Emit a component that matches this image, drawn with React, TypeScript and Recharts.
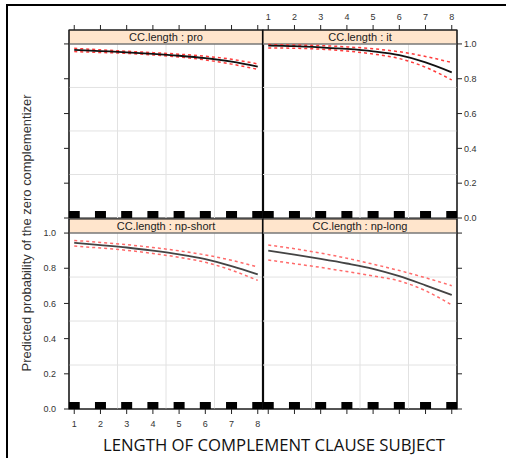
import { ComposedChart, Line, ReferenceArea, ReferenceLine, XAxis, YAxis } from 'recharts';

// length of the complement clause subject (x) and probability ticks
const LENGTHS = [1, 2, 3, 4, 5, 6, 7, 8];
const Y_TICKS = [0, 0.2, 0.4, 0.6, 0.8, 1.0];

// fitted probability with lower / upper confidence bands, per CC.length level
const PRO_FIT = [0.966, 0.959, 0.952, 0.943, 0.932, 0.918, 0.898, 0.870];
const PRO_LO = [0.956, 0.951, 0.946, 0.937, 0.925, 0.908, 0.884, 0.854];
const PRO_HI = [0.975, 0.966, 0.958, 0.950, 0.941, 0.929, 0.912, 0.885];

const IT_FIT = [0.990, 0.987, 0.980, 0.971, 0.957, 0.935, 0.894, 0.837];
const IT_LO = [0.977, 0.975, 0.970, 0.959, 0.942, 0.916, 0.866, 0.793];
const IT_HI = [0.996, 0.994, 0.990, 0.983, 0.972, 0.955, 0.928, 0.893];

const SHORT_FIT = [0.945, 0.932, 0.918, 0.900, 0.879, 0.852, 0.812, 0.765];
const SHORT_LO = [0.926, 0.915, 0.902, 0.884, 0.862, 0.834, 0.789, 0.731];
const SHORT_HI = [0.958, 0.947, 0.934, 0.918, 0.899, 0.876, 0.845, 0.807];

const LONG_FIT = [0.900, 0.877, 0.853, 0.827, 0.797, 0.755, 0.703, 0.648];
const LONG_LO = [0.847, 0.826, 0.805, 0.781, 0.756, 0.728, 0.672, 0.591];
const LONG_HI = [0.932, 0.911, 0.886, 0.857, 0.823, 0.787, 0.746, 0.701];

const W = 506;
const H = 458;
const X_DOMAIN: [number, number] = [0.8, 8.2];
const Y_TOP = 1.08; // strip sits between 1.0 and this
const FONT = '"Liberation Sans", Arial, sans-serif';
const AX = 30;

type Side = 'left' | 'right';
type End = 'top' | 'bottom';

interface PanelProps {
  name: string;
  fit: number[];
  lo: number[];
  hi: number[];
  box: [number, number, number, number];
  ySide: Side;
  xSide: End;
  yLabels: boolean;
  xLabels: boolean;
  fitColor: string;
  bandColor: string;
}

const Rug = (props: any) => {
  const { cx, cy, index } = props;
  if (cx == null || cy == null) return null;
  return <rect key={`rug-${index}`} x={cx - 5.5} y={cy - 7} width={11} height={7} fill="#000" />;
};

function Panel({ name, fit, lo, hi, box, ySide, xSide, yLabels, xLabels, fitColor, bandColor }: PanelProps) {
  const [l, t, r, b] = box;
  const rows = LENGTHS.map((x, i) => ({ x, fit: fit[i], lo: lo[i], hi: hi[i], rug: 0 }));
  const margin = {
    left: l - (ySide === 'left' ? AX : 0),
    right: W - r - (ySide === 'right' ? AX : 0),
    top: t - (xSide === 'top' ? AX : 0),
    bottom: H - b - (xSide === 'bottom' ? AX : 0),
  };
  const span = X_DOMAIN[1] - X_DOMAIN[0];
  const vGrid = [0.25, 0.5, 0.75].map((f) => X_DOMAIN[0] + span * f);
  const tickStyle = { fill: '#333', fontSize: 9, fontFamily: FONT };

  return (
    <div style={{ position: 'absolute', left: 0, top: 0 }}>
      <ComposedChart width={W} height={H} data={rows} margin={margin}>
        <XAxis
          dataKey="x"
          type="number"
          domain={X_DOMAIN}
          ticks={LENGTHS}
          interval={0}
          orientation={xSide}
          height={AX}
          tickSize={5}
          tickMargin={xSide === 'top' ? 5 : 7}
          stroke="#222"
          tick={tickStyle}
          tickFormatter={xLabels ? (v) => String(v) : () => ''}
          allowDataOverflow
        />
        <YAxis
          type="number"
          domain={[0, Y_TOP]}
          ticks={Y_TICKS}
          interval={0}
          orientation={ySide}
          width={AX}
          tickSize={5}
          tickMargin={ySide === 'left' ? 8 : 2}
          stroke="#222"
          tick={tickStyle}
          tickFormatter={yLabels ? (v) => Number(v).toFixed(1) : () => ''}
          allowDataOverflow
        />
        {[0.25, 0.5, 0.75].map((y) => (
          <ReferenceLine key={`h${y}`} y={y} stroke="#e2e2e2" />
        ))}
        {vGrid.map((x) => (
          <ReferenceLine key={`v${x}`} segment={[{ x, y: 0 }, { x, y: 1 }]} stroke="#e2e2e2" />
        ))}
        <ReferenceArea
          x1={X_DOMAIN[0]}
          x2={X_DOMAIN[1]}
          y1={1}
          y2={Y_TOP}
          fill="#ffe5cc"
          fillOpacity={1}
          stroke="none"
          label={{ value: `CC.length : ${name}`, position: 'center', fill: '#222', fontSize: 11, fontFamily: FONT }}
        />
        <ReferenceLine y={1} stroke="#777" strokeWidth={1.5} />
        <Line dataKey="hi" type="monotone" stroke={bandColor} strokeWidth={1.5} strokeDasharray="3 3" dot={false} isAnimationActive={false} />
        <Line dataKey="lo" type="monotone" stroke={bandColor} strokeWidth={1.5} strokeDasharray="3 3" dot={false} isAnimationActive={false} />
        <Line dataKey="fit" type="monotone" stroke={fitColor} strokeWidth={1.8} dot={false} isAnimationActive={false} />
        <Line dataKey="rug" stroke="none" dot={Rug} activeDot={false} isAnimationActive={false} />
        <ReferenceArea x1={X_DOMAIN[0]} x2={X_DOMAIN[1]} y1={0} y2={Y_TOP} fill="none" stroke="#111" strokeWidth={1.2} />
        {ySide === 'left' && <ReferenceLine x={X_DOMAIN[1]} stroke="#000" strokeWidth={2.2} />}
      </ComposedChart>
    </div>
  );
}

export default function App() {
  return (
    <div style={{ position: 'fixed', left: 0, top: 0, width: W, height: H, background: '#fff', overflow: 'hidden' }}>
      <div style={{ position: 'absolute', left: 6, top: 4, width: W, height: H, borderLeft: '2.5px solid #000', borderTop: '2.5px solid #000' }} />
      <Panel name="pro" fit={PRO_FIT} lo={PRO_LO} hi={PRO_HI} box={[69, 30, 263, 218]} ySide="left" xSide="top" yLabels={false} xLabels={false} fitColor="#111" bandColor="#ff3b3b" />
      <Panel name="it" fit={IT_FIT} lo={IT_LO} hi={IT_HI} box={[263, 30, 457, 218]} ySide="right" xSide="top" yLabels xLabels fitColor="#111" bandColor="#ff3b3b" />
      <Panel name="np-short" fit={SHORT_FIT} lo={SHORT_LO} hi={SHORT_HI} box={[69, 219, 263, 409]} ySide="left" xSide="bottom" yLabels xLabels fitColor="#444" bandColor="#ff6b6b" />
      <Panel name="np-long" fit={LONG_FIT} lo={LONG_LO} hi={LONG_HI} box={[263, 219, 457, 409]} ySide="right" xSide="bottom" yLabels={false} xLabels={false} fitColor="#444" bandColor="#ff6b6b" />
      <svg width={W} height={H} style={{ position: 'absolute', left: 0, top: 0, pointerEvents: 'none' }}>
        <text
          transform="translate(27,233) rotate(-90)"
          textAnchor="middle"
          dominantBaseline="central"
          fontSize={12.5}
          fontFamily={FONT}
          fill="#333"
          textLength={277}
          lengthAdjust="spacingAndGlyphs"
        >
          Predicted probability of the zero complementizer
        </text>
        <text x={274} y={451} textAnchor="middle" fontSize={16} fontFamily='"Open Sans", "Noto Sans", sans-serif' fill="#111" textLength={342} lengthAdjust="spacingAndGlyphs">
          LENGTH OF COMPLEMENT CLAUSE SUBJECT
        </text>
      </svg>
    </div>
  );
}
